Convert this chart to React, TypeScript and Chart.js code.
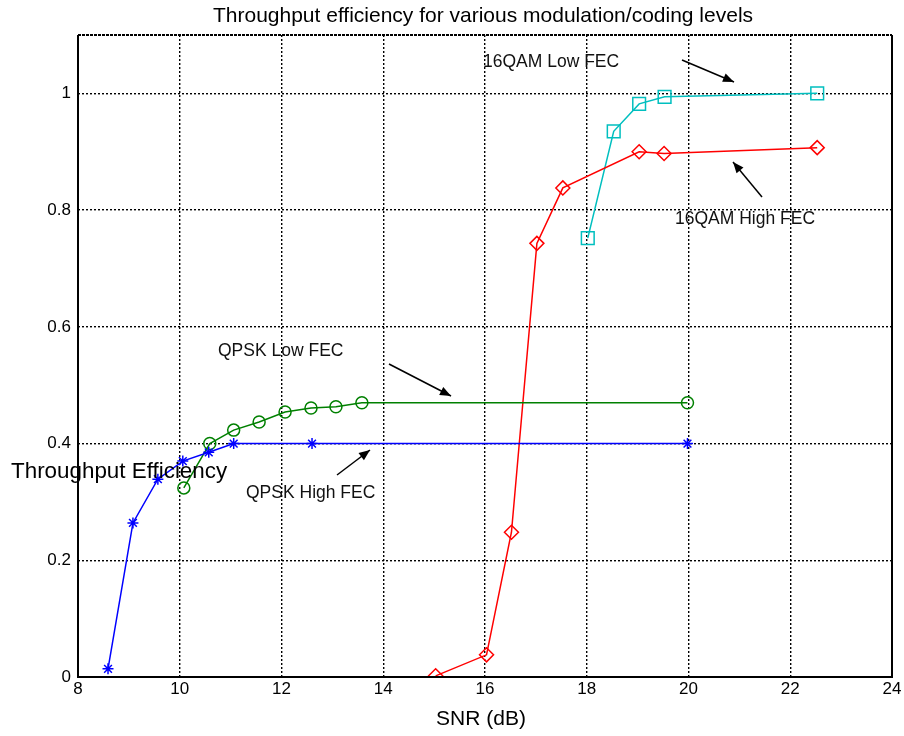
import React, { useEffect, useRef } from 'react';
import { Chart, registerables } from 'chart.js';

Chart.register(...registerables);

const TITLE = 'Throughput efficiency for various modulation/coding levels';
const X_LABEL = 'SNR (dB)';
const Y_LABEL = 'Throughput Efficiency';

const xTicks = [8, 10, 12, 14, 16, 18, 20, 22, 24];
const yTicks = [0, 0.2, 0.4, 0.6, 0.8, 1];

const qpskHighX = [8.59, 9.08, 9.57, 10.06, 10.57, 11.06, 12.6, 19.98];
const qpskHighY = [0.014, 0.264, 0.339, 0.37, 0.385, 0.4, 0.4, 0.4];

const qpskLowX = [10.08, 10.59, 11.06, 11.56, 12.07, 12.58, 13.07, 13.58, 19.98];
const qpskLowY = [0.324, 0.4, 0.423, 0.437, 0.454, 0.461, 0.463, 0.47, 0.47];

const qamHighX = [15.03, 16.03, 16.52, 17.02, 17.53, 19.03, 19.52, 22.53];
const qamHighY = [0.002, 0.038, 0.248, 0.743, 0.838, 0.9, 0.897, 0.907];

const qamLowX = [18.02, 18.53, 19.03, 19.53, 22.53];
const qamLowY = [0.752, 0.935, 0.982, 0.994, 1.0];

const FONT = '"Liberation Sans", Arial, sans-serif';

const toPts = (xs: number[], ys: number[]) => xs.map((x, i) => ({ x, y: ys[i] }));

type Note = { text: string; tx: number; ty: number; ax1: number; ay1: number; ax2: number; ay2: number };
const notes: Note[] = [
  { text: '16QAM Low FEC', tx: 483, ty: 62, ax1: 682, ay1: 60, ax2: 734, ay2: 82 },
  { text: '16QAM High FEC', tx: 675, ty: 219, ax1: 762, ay1: 197, ax2: 733, ay2: 162 },
  { text: 'QPSK Low FEC', tx: 218, ty: 351, ax1: 389, ay1: 364, ax2: 451, ay2: 396 },
  { text: 'QPSK High FEC', tx: 246, ty: 493, ax1: 337, ay1: 475, ax2: 370, ay2: 450 },
];

const decorPlugin = {
  id: 'decor',
  afterDraw(chart: any) {
    const ctx = chart.ctx as CanvasRenderingContext2D;
    const a = chart.chartArea;
    ctx.save();
    // frame
    ctx.strokeStyle = '#000';
    ctx.lineWidth = 2;
    ctx.setLineDash([]);
    ctx.beginPath();
    ctx.moveTo(a.left, a.top);
    ctx.lineTo(a.left, a.bottom);
    ctx.lineTo(a.right, a.bottom);
    ctx.lineTo(a.right, a.top);
    ctx.stroke();
    ctx.setLineDash([3, 1]);
    ctx.beginPath();
    ctx.moveTo(a.left, a.top);
    ctx.lineTo(a.right, a.top);
    ctx.stroke();
    ctx.setLineDash([]);

    // title & axis titles
    ctx.fillStyle = '#000';
    ctx.textBaseline = 'middle';
    ctx.textAlign = 'center';
    ctx.font = `21px ${FONT}`;
    ctx.fillText(TITLE, 483, 16);
    ctx.font = `21px ${FONT}`;
    ctx.fillText(X_LABEL, 481, 719);
    ctx.textAlign = 'left';
    ctx.font = `22.4px ${FONT}`;
    ctx.fillText(Y_LABEL, 11, 472);

    // annotations
    ctx.font = `17.5px ${FONT}`;
    ctx.fillStyle = '#111';
    ctx.strokeStyle = '#000';
    ctx.lineWidth = 1.5;
    for (const n of notes) {
      ctx.fillText(n.text, n.tx, n.ty);
      ctx.beginPath();
      ctx.moveTo(n.ax1, n.ay1);
      ctx.lineTo(n.ax2, n.ay2);
      ctx.stroke();
      const ang = Math.atan2(n.ay2 - n.ay1, n.ax2 - n.ax1);
      const L = 11;
      const W = 4.5;
      ctx.beginPath();
      ctx.moveTo(n.ax2, n.ay2);
      ctx.lineTo(n.ax2 - L * Math.cos(ang) + W * Math.sin(ang), n.ay2 - L * Math.sin(ang) - W * Math.cos(ang));
      ctx.lineTo(n.ax2 - L * Math.cos(ang) - W * Math.sin(ang), n.ay2 - L * Math.sin(ang) + W * Math.cos(ang));
      ctx.closePath();
      ctx.fillStyle = '#000';
      ctx.fill();
      ctx.fillStyle = '#111';
    }
    ctx.restore();
  },
};

export default function App() {
  const ref = useRef<HTMLCanvasElement | null>(null);

  useEffect(() => {
    if (!ref.current) return;
    const none = 'rgba(0,0,0,0)';
    const chart = new Chart(ref.current, {
      type: 'scatter',
      data: {
        datasets: [
          {
            label: 'QPSK High FEC',
            data: toPts(qpskHighX, qpskHighY),
            showLine: true,
            borderColor: '#0000ff',
            backgroundColor: none,
            borderWidth: 1.5,
            pointStyle: 'star',
            pointRadius: 5.5,
            pointBorderWidth: 1.5,
            pointBorderColor: '#0000ff',
          },
          {
            label: 'QPSK Low FEC',
            data: toPts(qpskLowX, qpskLowY),
            showLine: true,
            borderColor: '#008000',
            backgroundColor: none,
            borderWidth: 1.5,
            pointStyle: 'circle',
            pointRadius: 6,
            pointBorderWidth: 1.5,
            pointBorderColor: '#008000',
          },
          {
            label: '16QAM High FEC',
            data: toPts(qamHighX, qamHighY),
            showLine: true,
            borderColor: '#ff0000',
            backgroundColor: none,
            borderWidth: 1.5,
            pointStyle: 'rectRot',
            pointRadius: 7,
            pointBorderWidth: 1.5,
            pointBorderColor: '#ff0000',
          },
          {
            label: '16QAM Low FEC',
            data: toPts(qamLowX, qamLowY),
            showLine: true,
            borderColor: '#00bfbf',
            backgroundColor: none,
            borderWidth: 1.5,
            pointStyle: 'rect',
            pointRadius: 9,
            pointBorderWidth: 1.5,
            pointBorderColor: '#00bfbf',
          },
        ],
      },
      options: {
        animation: false,
        responsive: false,
        maintainAspectRatio: false,
        devicePixelRatio: 1,
        layout: { padding: { left: 0, right: 12, top: 35, bottom: 0 } },
        plugins: {
          legend: { display: false },
          title: { display: false },
          tooltip: { enabled: false },
        },
        scales: {
          x: {
            type: 'linear',
            min: 8,
            max: 24,
            afterBuildTicks: (s: any) => {
              s.ticks = xTicks.map((v) => ({ value: v }));
            },
            afterFit: (s: any) => {
              s.height = 59;
            },
            ticks: {
              color: '#000',
              font: { family: FONT, size: 17 },
              padding: 2,
              maxRotation: 0,
              autoSkip: false,
              callback: (v: any) => String(v),
            },
            grid: { color: '#000', lineWidth: 1.4, drawTicks: false },
            border: { display: false, dash: [2, 2] },
          },
          y: {
            type: 'linear',
            min: 0,
            max: 1.1,
            afterBuildTicks: (s: any) => {
              s.ticks = yTicks.map((v) => ({ value: v }));
            },
            afterFit: (s: any) => {
              s.width = 78;
            },
            ticks: {
              color: '#000',
              font: { family: FONT, size: 17 },
              padding: 7,
              autoSkip: false,
              callback: (v: any) => (v === 0 || v === 1 ? String(v) : Number(v).toFixed(1)),
            },
            grid: { color: '#000', lineWidth: 1.4, drawTicks: false },
            border: { display: false, dash: [2, 2] },
          },
        },
      },
      plugins: [decorPlugin],
    } as any);
    return () => chart.destroy();
  }, []);

  return (
    <div style={{ position: 'absolute', left: 0, top: 0, width: 904, height: 736, background: '#fff' }}>
      <canvas ref={ref} width={904} height={736} style={{ display: 'block', width: 904, height: 736 }} />
    </div>
  );
}
